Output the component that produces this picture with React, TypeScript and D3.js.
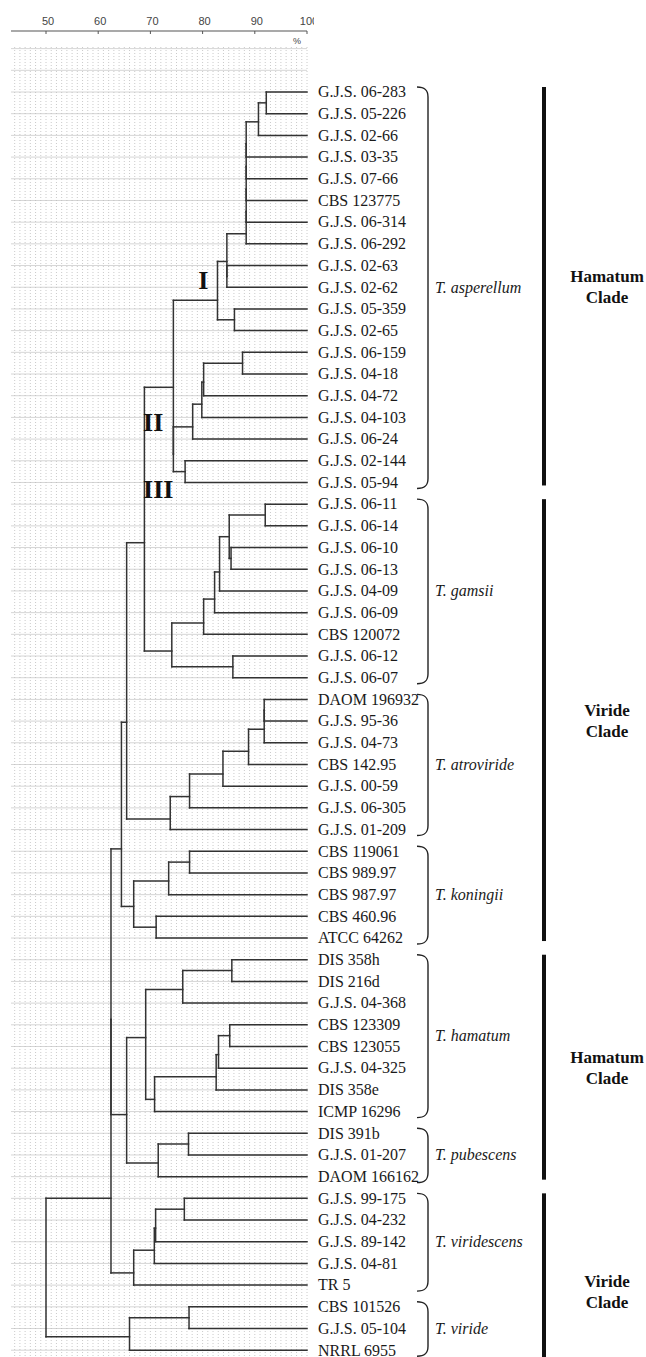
import React from "react";
import * as d3 from "d3";

// ---------- DATA ----------
const leaves: string[] = [
  "G.J.S. 06-283", "G.J.S. 05-226", "G.J.S. 02-66", "G.J.S. 03-35", "G.J.S. 07-66",
  "CBS 123775", "G.J.S. 06-314", "G.J.S. 06-292", "G.J.S. 02-63", "G.J.S. 02-62",
  "G.J.S. 05-359", "G.J.S. 02-65", "G.J.S. 06-159", "G.J.S. 04-18", "G.J.S. 04-72",
  "G.J.S. 04-103", "G.J.S. 06-24", "G.J.S. 02-144", "G.J.S. 05-94",
  "G.J.S. 06-11", "G.J.S. 06-14", "G.J.S. 06-10", "G.J.S. 06-13", "G.J.S. 04-09",
  "G.J.S. 06-09", "CBS 120072", "G.J.S. 06-12", "G.J.S. 06-07",
  "DAOM 196932", "G.J.S. 95-36", "G.J.S. 04-73", "CBS 142.95", "G.J.S. 00-59",
  "G.J.S. 06-305", "G.J.S. 01-209",
  "CBS 119061", "CBS 989.97", "CBS 987.97", "CBS 460.96", "ATCC 64262",
  "DIS 358h", "DIS 216d", "G.J.S. 04-368", "CBS 123309", "CBS 123055",
  "G.J.S. 04-325", "DIS 358e", "ICMP 16296",
  "DIS 391b", "G.J.S. 01-207", "DAOM 166162",
  "G.J.S. 99-175", "G.J.S. 04-232", "G.J.S. 89-142", "G.J.S. 04-81", "TR 5",
  "CBS 101526", "G.J.S. 05-104", "NRRL 6955",
];

// [node id, child 1, child 2, similarity %]
const merges: [string, string, string, number][] = [
  ["a1", "G.J.S. 06-283", "G.J.S. 05-226", 92.2],
  ["a2", "a1", "G.J.S. 02-66", 90.7],
  ["a3", "a2", "G.J.S. 03-35", 88.35],
  ["a4", "a3", "G.J.S. 07-66", 88.35],
  ["a5", "a4", "CBS 123775", 88.35],
  ["a6", "a5", "G.J.S. 06-314", 88.35],
  ["a7", "a6", "G.J.S. 06-292", 88.35],
  ["a8", "G.J.S. 02-63", "G.J.S. 02-62", 84.65],
  ["a9", "a7", "a8", 84.65],
  ["a10", "G.J.S. 05-359", "G.J.S. 02-65", 86.1],
  ["a11", "a9", "a10", 82.85],
  ["a12", "G.J.S. 06-159", "G.J.S. 04-18", 87.65],
  ["a13", "a12", "G.J.S. 04-72", 80.2],
  ["a14", "a13", "G.J.S. 04-103", 79.85],
  ["a15", "a14", "G.J.S. 06-24", 78.1],
  ["a16", "G.J.S. 02-144", "G.J.S. 05-94", 76.65],
  ["a17", "a15", "a16", 74.4],
  ["a18", "a11", "a17", 74.4],
  ["g1", "G.J.S. 06-11", "G.J.S. 06-14", 92.0],
  ["g2", "G.J.S. 06-10", "G.J.S. 06-13", 85.45],
  ["g3", "g1", "g2", 85.1],
  ["g4", "g3", "G.J.S. 04-09", 83.25],
  ["g5", "g4", "G.J.S. 06-09", 82.3],
  ["g6", "g5", "CBS 120072", 80.2],
  ["g7", "G.J.S. 06-12", "G.J.S. 06-07", 85.8],
  ["g8", "g6", "g7", 74.1],
  ["k8", "a18", "g8", 68.85],
  ["t1", "DAOM 196932", "G.J.S. 95-36", 91.8],
  ["t2", "t1", "G.J.S. 04-73", 91.8],
  ["t3", "t2", "CBS 142.95", 88.8],
  ["t4", "t3", "G.J.S. 00-59", 83.9],
  ["t5", "t4", "G.J.S. 06-305", 77.5],
  ["t6", "t5", "G.J.S. 01-209", 73.8],
  ["m", "k8", "t6", 65.45],
  ["n1", "CBS 119061", "CBS 989.97", 77.5],
  ["n2", "n1", "CBS 987.97", 73.5],
  ["n3", "CBS 460.96", "ATCC 64262", 71.1],
  ["n4", "n2", "n3", 66.8],
  ["o", "m", "n4", 64.45],
  ["h1", "DIS 358h", "DIS 216d", 85.6],
  ["h2", "h1", "G.J.S. 04-368", 76.2],
  ["h3", "CBS 123309", "CBS 123055", 85.2],
  ["h4", "h3", "G.J.S. 04-325", 83.05],
  ["h5", "h4", "DIS 358e", 82.6],
  ["h6", "h5", "ICMP 16296", 70.8],
  ["h7", "h2", "h6", 69.1],
  ["p1", "DIS 391b", "G.J.S. 01-207", 77.3],
  ["p2", "p1", "DAOM 166162", 71.5],
  ["s", "h7", "p2", 65.45],
  ["os", "o", "s", 62.45],
  ["v1", "G.J.S. 99-175", "G.J.S. 04-232", 76.5],
  ["v2", "v1", "G.J.S. 89-142", 71.0],
  ["v3", "v2", "G.J.S. 04-81", 70.75],
  ["v4", "v3", "TR 5", 66.8],
  ["pp", "os", "v4", 62.45],
  ["w1", "CBS 101526", "G.J.S. 05-104", 77.4],
  ["w2", "w1", "NRRL 6955", 66.0],
  ["root", "pp", "w2", 50.0],
];

const speciesNames = ["T. asperellum", "T. gamsii", "T. atroviride", "T. koningii", "T. hamatum", "T. pubescens", "T. viridescens", "T. viride"];
const speciesFirst = ["G.J.S. 06-283", "G.J.S. 06-11", "DAOM 196932", "CBS 119061", "DIS 358h", "DIS 391b", "G.J.S. 99-175", "CBS 101526"];
const speciesLast = ["G.J.S. 05-94", "G.J.S. 06-07", "G.J.S. 01-209", "ATCC 64262", "ICMP 16296", "DAOM 166162", "TR 5", "NRRL 6955"];

const cladeNames = ["Hamatum", "Viride", "Hamatum", "Viride"];
const cladeFirst = ["G.J.S. 06-283", "G.J.S. 06-11", "DIS 358h", "G.J.S. 99-175"];
const cladeLast = ["G.J.S. 05-94", "ATCC 64262", "DAOM 166162", "NRRL 6955"];

const romanLabels = ["I", "II", "III"];
const romanPct = [79.15, 68.6, 68.6];
const romanRow = [9.1, 15.65, 18.7];

const axisTicks = [50, 60, 70, 80, 90, 100];

// ---------- LAYOUT ----------
const W = 646;
const H = 1357;
const x = d3.scaleLinear().domain([50, 100]).range([46, 307]);
const y = d3.scaleLinear().domain([0, 58]).range([92, 1350.2]);
const gridLeft = 11;
const gridTop = 47;

type TNode = { id: string; h: number; y: number; n: number; children?: TNode[] };

function buildTree() {
  const map = new Map<string, TNode>();
  leaves.forEach((name, i) => map.set(name, { id: name, h: 100, y: y(i), n: 1 }));
  merges.forEach(([id, a, b, h]) => {
    const A = map.get(a)!;
    const B = map.get(b)!;
    const N = A.n + B.n;
    const mid = (A.y + B.y) / 2;
    const rev = (A.y * B.n + B.y * A.n) / N;
    map.set(id, { id, h, y: (mid + rev) / 2, n: N, children: [A, B] });
  });
  return map;
}

const serif = "'Liberation Serif', 'Times New Roman', Times, serif";
const sans = "'Liberation Sans', Arial, Helvetica, sans-serif";

export default function App() {
  const map = buildTree();
  const internal = merges.map((m) => map.get(m[0])!);
  const idx = (name: string) => leaves.indexOf(name);

  const segs: { x1: number; y1: number; x2: number; y2: number }[] = [];
  internal.forEach((nd) => {
    const cs = nd.children!;
    const ys = cs.map((c) => c.y);
    segs.push({ x1: x(nd.h), y1: d3.min(ys)!, x2: x(nd.h), y2: d3.max(ys)! });
    cs.forEach((c) => segs.push({ x1: x(nd.h), y1: c.y, x2: x(c.h), y2: c.y }));
  });

  const vGrid = d3.range(44, 101);
  const hGrid = d3.range(-2, 59);

  const bracePath = (top: number, bot: number) => {
    const p = d3.path();
    const xl = 417, xr = 428;
    p.moveTo(xl, top);
    p.bezierCurveTo(xl + 8, top, xr, top + 3, xr, top + 10);
    p.lineTo(xr, bot - 10);
    p.bezierCurveTo(xr, bot - 3, xl + 8, bot, xl, bot);
    return p.toString();
  };

  return (
    <div style={{ position: "absolute", left: 0, top: 0 }}>
      <svg width={W} height={H} viewBox={`0 0 ${W} ${H}`} style={{ display: "block", background: "#fff" }}>
        <defs>
          <clipPath id="axisClip">
            <rect x={0} y={0} width={314} height={40} />
          </clipPath>
        </defs>
        {/* grid */}
        <g>
          {hGrid.map((i) => (
            <line key={"h" + i} x1={gridLeft} x2={x(100)} y1={y(i)} y2={y(i)} stroke="#d6d6d6" strokeWidth={1} />
          ))}
          {vGrid.map((v) => (
            <line key={"v" + v} x1={x(v)} x2={x(v)} y1={gridTop} y2={H} stroke="#bdbdbd" strokeWidth={0.8} strokeDasharray="1 2" />
          ))}
        </g>
        {/* axis */}
        <g clipPath="url(#axisClip)">
          <line x1={gridLeft} x2={x(100)} y1={31} y2={31} stroke="#555" strokeWidth={1.2} />
          {axisTicks.map((t) => (
            <g key={t}>
              <line x1={x(t)} x2={x(t)} y1={31} y2={34} stroke="#555" strokeWidth={1} />
              <text x={x(t) + 2} y={25} textAnchor="middle" fontFamily={sans} fontSize={11} fill="#444">
                {t}
              </text>
            </g>
          ))}
        </g>
        <text x={x(100) - 10} y={44} textAnchor="middle" fontFamily={sans} fontSize={9} fill="#444">
          %
        </text>
        {/* dendrogram */}
        <g stroke="#333" strokeWidth={1.5} strokeLinecap="square">
          {segs.map((s, i) => (
            <line key={i} x1={s.x1} y1={s.y1} x2={s.x2} y2={s.y2} />
          ))}
        </g>
        {/* roman numerals */}
        {romanLabels.map((r, i) => (
          <text key={r} x={x(romanPct[i])} y={y(romanRow[i])} fontFamily={serif} fontWeight="bold" fontSize={26} fill="#111">
            {r}
          </text>
        ))}
        {/* leaf labels */}
        {leaves.map((name, i) => (
          <text key={name} x={318} y={y(i) + 5.3} fontFamily={serif} fontSize={16} fill="#1a1a1a">
            {name}
          </text>
        ))}
        {/* braces + species */}
        {speciesNames.map((sp, i) => {
          const y0 = y(idx(speciesFirst[i]));
          const y1 = y(idx(speciesLast[i]));
          return (
            <g key={sp}>
              <path d={bracePath(y0 - 5, y1 + 6)} fill="none" stroke="#222" strokeWidth={1.4} />
              <text x={435} y={(y0 + y1) / 2 + 5.5} fontFamily={serif} fontStyle="italic" fontSize={16} fill="#1a1a1a">
                {sp}
              </text>
            </g>
          );
        })}
        {/* clade bars */}
        {cladeNames.map((c, i) => {
          const top = y(idx(cladeFirst[i])) - 5;
          const isLast = i === cladeNames.length - 1;
          const bot = y(idx(cladeLast[i])) + (isLast ? 40 : 3);
          const mid = (top + bot) / 2;
          return (
            <g key={i}>
              <rect x={542} y={top} width={4} height={bot - top} fill="#111" />
              <text x={607} y={mid - 4.5} textAnchor="middle" fontFamily={serif} fontWeight="bold" fontSize={17} fill="#111">
                {c}
              </text>
              <text x={607} y={mid + 16.5} textAnchor="middle" fontFamily={serif} fontWeight="bold" fontSize={17} fill="#111">
                Clade
              </text>
            </g>
          );
        })}
      </svg>
    </div>
  );
}
